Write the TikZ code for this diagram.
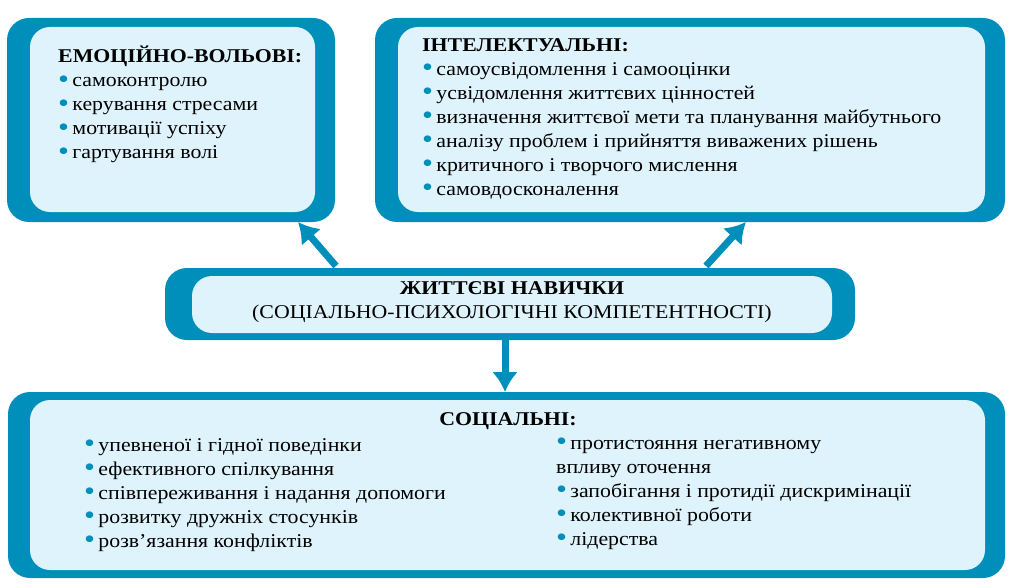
\documentclass[tikz,border=0pt]{standalone}
\usepackage{fontspec}
\setmainfont[FakeStretch=1.12]{Liberation Serif}
\usetikzlibrary{arrows.meta, positioning}
\definecolor{frameblue}{RGB}{0,143,186}
\definecolor{paleblue}{RGB}{222,243,251}
\newcommand{\bul}{\textcolor{frameblue}{\fontsize{28}{24}\selectfont\raisebox{-1.5pt}{•}}\,}

\begin{document}
\begin{tikzpicture}[x=1pt, y=-1pt, font=\fontsize{19.5}{24}\selectfont]
        % Define block styles
        \tikzstyle{outerbox} = [fill=frameblue, rounded corners=22pt]
        \tikzstyle{innerbox} = [fill=paleblue, rounded corners=20pt]
        \tikzstyle{line} = [draw=frameblue, line width=7pt, -{Latex[length=20pt, width=26pt]}]
        \useasboundingbox (0,0) rectangle (1024,588);

        % Frames
        \fill [outerbox] (7,18) rectangle (335,222);
        \fill [innerbox] (30,27) rectangle (315,212);
        \fill [outerbox] (375,18) rectangle (1005,222);
        \fill [innerbox] (398,27) rectangle (985,212);
        \fill [outerbox] (165,268) rectangle (855,340);
        \fill [innerbox] (192,276) rectangle (832,333);
        \fill [outerbox] (8,392) rectangle (1005,578);
        \fill [innerbox] (30,400) rectangle (985,570);

        % Define nodes
        \node [anchor=north west, align=left, inner sep=0pt] (E) at (58,46) {\textbf{ЕМОЦІЙНО-ВОЛЬОВІ:}\\
          \bul самоконтролю\\ \bul керування стресами\\ \bul мотивації успіху\\ \bul гартування волі};
        \node [anchor=north west, align=left, inner sep=0pt] (I) at (422,38) {\textbf{ІНТЕЛЕКТУАЛЬНІ:}\\
          \bul самоусвідомлення і самооцінки\\ \bul усвідомлення життєвих цінностей\\
          \bul визначення життєвої мети та планування майбутнього\\
          \bul аналізу проблем і прийняття виважених рішень\\
          \bul критичного і творчого мислення\\ \bul самовдосконалення};
        \node [align=center] (L) at (512,302) {\textbf{ЖИТТЄВІ НАВИЧКИ}\\(СОЦІАЛЬНО-ПСИХОЛОГІЧНІ КОМПЕТЕНТНОСТІ)};
        \node [font=\fontsize{19.5}{24}\selectfont\bfseries] (S) at (508,421) {СОЦІАЛЬНІ:};
        \node [anchor=north west, align=left, inner sep=0pt] (S1) at (84,438) {\bul упевненої і гідної поведінки\\
          \bul ефективного спілкування\\ \bul співпереживання і надання допомоги\\
          \bul розвитку дружніх стосунків\\ \bul розв’язання конфліктів};
        \node [anchor=north west, align=left, inner sep=0pt] (S2) at (556,438) {\bul протистояння негативному\\
          впливу оточення\\ \bul запобігання і протидії дискримінації\\
          \bul колективної роботи\\ \bul лідерства};

        % Connect nodes with paths
        \coordinate (a1) at (336,266); \coordinate (a2) at (298,222);
        \coordinate (b1) at (706,266); \coordinate (b2) at (746,222);
        \coordinate (c1) at (505,340); \coordinate (c2) at (505,392);
        \path [line] (a1) -- (a2);
        \path [line] (b1) -- (b2);
        \path [line] (c1) -- (c2);
\end{tikzpicture}
\end{document}
